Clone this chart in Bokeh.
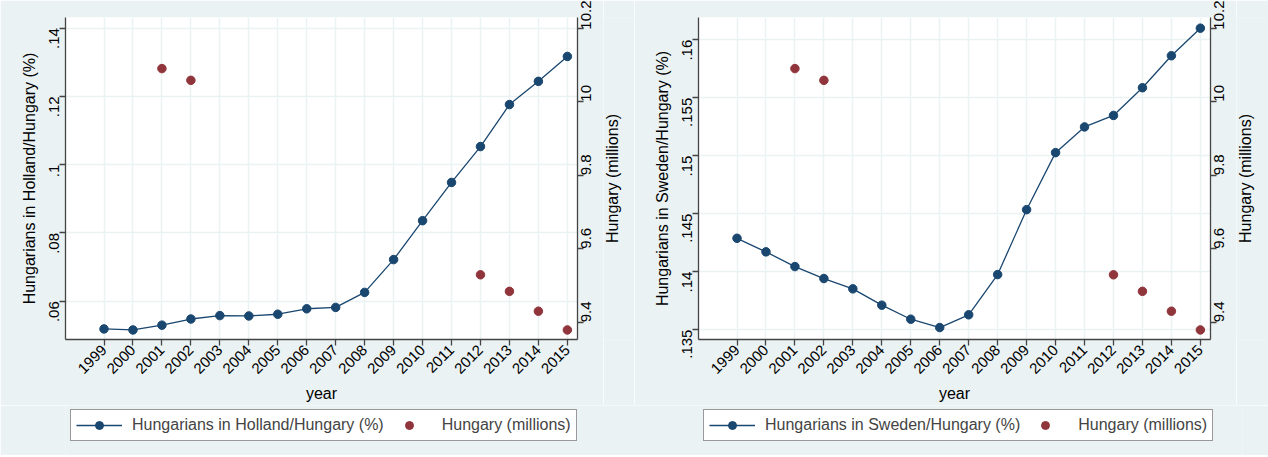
from math import pi
from bokeh.plotting import figure
from bokeh.models import Range1d, LinearAxis, FixedTicker, Legend, LegendItem
from bokeh.core.properties import value
from bokeh.layouts import row, column
from bokeh.embed import file_html
from bokeh.resources import INLINE

years = list(range(1999, 2016))
year_labels = [str(y) for y in years]
holland_pct = [.0519, .0516, .0530, .0548, .0558, .0557, .0562, .0578, .0582,
               .0626, .0722, .0836, .0948, .1053, .1176, .1244, .1317]
sweden_pct = [.14287, .1417, .14043, .1394, .13851, .1371, .13589, .13517, .13627,
              .13974, .14534, .15026, .15248, .15347, .15586, .15862, .1610]
hun_years = [2001, 2002, 2012, 2013, 2014, 2015]
hungary_mil = [10.090, 10.058, 9.529, 9.484, 9.430, 9.379]

holland_ticks = [.06, .08, .1, .12, .14]
holland_tick_labels = [".06", ".08", ".1", ".12", ".14"]
sweden_ticks = [.135, .14, .145, .15, .155, .16]
sweden_tick_labels = [".135", ".14", ".145", ".15", ".155", ".16"]
mil_ticks = [9.4, 9.6, 9.8, 10, 10.2]
mil_tick_labels = ["9.4", "9.6", "9.8", "10", "10.2"]
right_title = "Hungary (millions)"

NAVY = "#1a476f"
MAROON = "#90353b"
BG = "#eaf2f3"
FONT = "Liberation Sans"
AX = "#444444"
H_MAIN = 405
TOP_B = 17
BOT_B = 66


def style_axis(ax):
    ax.axis_line_color = AX
    ax.axis_line_width = 1.3
    ax.major_tick_line_color = AX
    ax.major_tick_line_width = 1.3
    ax.major_tick_out = 6
    ax.major_tick_in = 0
    ax.minor_tick_line_color = None
    ax.major_label_text_font = FONT
    ax.major_label_text_font_size = "15px"
    ax.major_label_text_color = "black"
    ax.axis_label_text_font = FONT
    ax.axis_label_text_font_size = "16px"
    ax.axis_label_text_font_style = "normal"
    ax.axis_label_text_color = "black"


def panel(pct, ylabel, yr, ticks, tlabels, width, left_b, right_b):
    p = figure(width=width, height=H_MAIN, output_backend="svg", toolbar_location=None,
               x_range=Range1d(1997.67, 2015.35), y_range=Range1d(*yr),
               min_border_left=left_b, min_border_right=right_b,
               min_border_top=TOP_B, min_border_bottom=BOT_B)
    p.background_fill_color = "white"
    p.border_fill_color = BG
    p.outline_line_color = None
    p.extra_y_ranges = {"mil": Range1d(9.353, 10.229)}

    p.xgrid.ticker = FixedTicker(ticks=years)
    p.ygrid.ticker = FixedTicker(ticks=ticks)
    for g in (p.xgrid, p.ygrid):
        g.grid_line_color = BG
        g.grid_line_width = 1.5

    xa = p.xaxis[0]
    xa.ticker = FixedTicker(ticks=years)
    xa.major_label_overrides = dict(zip(years, year_labels))
    xa.major_label_orientation = pi / 4
    xa.axis_label = "year"
    xa.major_label_standoff = 2
    xa.axis_label_standoff = 4
    style_axis(xa)

    ya = p.yaxis[0]
    ya.ticker = FixedTicker(ticks=ticks)
    ya.major_label_overrides = dict(zip(ticks, tlabels))
    ya.major_label_orientation = pi / 2
    ya.axis_label = ylabel
    ya.major_label_standoff = 5
    ya.axis_label_standoff = 4
    style_axis(ya)

    ra = LinearAxis(y_range_name="mil")
    ra.ticker = FixedTicker(ticks=mil_ticks)
    ra.major_label_overrides = dict(zip(mil_ticks, mil_tick_labels))
    ra.major_label_orientation = pi / 2
    ra.major_label_standoff = 3
    style_axis(ra)
    p.add_layout(ra, "right")

    p.line(years, pct, line_color=NAVY, line_width=1.3)
    p.scatter(years, pct, size=8.5, fill_color=NAVY, line_color=NAVY)
    p.scatter(hun_years, hungary_mil, y_range_name="mil", size=8.5,
              fill_color=MAROON, line_color=MAROON)
    return p


def strip(width, cx):
    # holds the title of the right-hand axis, reading bottom to top
    s = figure(width=width, height=H_MAIN, output_backend="svg", toolbar_location=None,
               x_axis_type=None, y_axis_type=None,
               x_range=Range1d(0, width), y_range=Range1d(0, 1),
               min_border_left=0, min_border_right=0,
               min_border_top=TOP_B, min_border_bottom=BOT_B)
    s.background_fill_color = BG
    s.border_fill_color = BG
    s.outline_line_color = None
    s.grid.visible = False
    s.text(x=[cx], y=[0.5], text=[right_title], angle=pi / 2,
           text_align="center", text_baseline="middle",
           text_font=value(FONT), text_font_size="16px", text_color="black")
    return s


def add_legend(lf, label, pct, xoff):
    ln = lf.line(years, pct, line_color=NAVY, line_width=1.3)
    mk = lf.scatter(years, pct, size=8.5, fill_color=NAVY, line_color=NAVY)
    rd = lf.scatter(hun_years, hungary_mil, size=8.5, fill_color=MAROON, line_color=MAROON)
    leg = Legend(items=[LegendItem(label=label, renderers=[ln, mk]),
                        LegendItem(label="Hungary (millions)", renderers=[rd])],
                 orientation="horizontal", location=(xoff, 14))
    leg.label_text_font = FONT
    leg.label_text_font_size = "16px"
    leg.label_standoff = 10
    leg.glyph_width = 46
    leg.glyph_height = 20
    leg.label_height = 20
    leg.padding = 5
    leg.spacing = 2
    leg.margin = 0
    leg.border_line_color = "#333333"
    leg.border_line_width = 1.2
    leg.background_fill_color = "white"
    leg.background_fill_alpha = 1
    lf.add_layout(leg, "center")


p1 = panel(holland_pct, "Hungarians in Holland/Hungary (%)", (.0488, .1431),
           holland_ticks, holland_tick_labels, 603, 65, 26)
s1 = strip(31, 8.7)
p2 = panel(sweden_pct, "Hungarians in Sweden/Hungary (%)", (.13414, .16192),
           sweden_ticks, sweden_tick_labels, 602, 64, 26)
s2 = strip(32, 9)

lf = figure(width=1268, height=50, output_backend="svg", toolbar_location=None,
            x_axis_type=None, y_axis_type=None,
            x_range=Range1d(0, 1), y_range=Range1d(0, 1),
            min_border_left=65, min_border_right=26, min_border_top=0, min_border_bottom=0)
lf.background_fill_color = BG
lf.border_fill_color = BG
lf.outline_line_color = None
lf.grid.visible = False
add_legend(lf, "Hungarians in Holland/Hungary (%)", holland_pct, 5)
add_legend(lf, "Hungarians in Sweden/Hungary (%)", sweden_pct, 638)

layout = column(row(p1, s1, p2, s2, spacing=0), lf, spacing=0)
open("out.html", "w").write(file_html(layout, INLINE))
